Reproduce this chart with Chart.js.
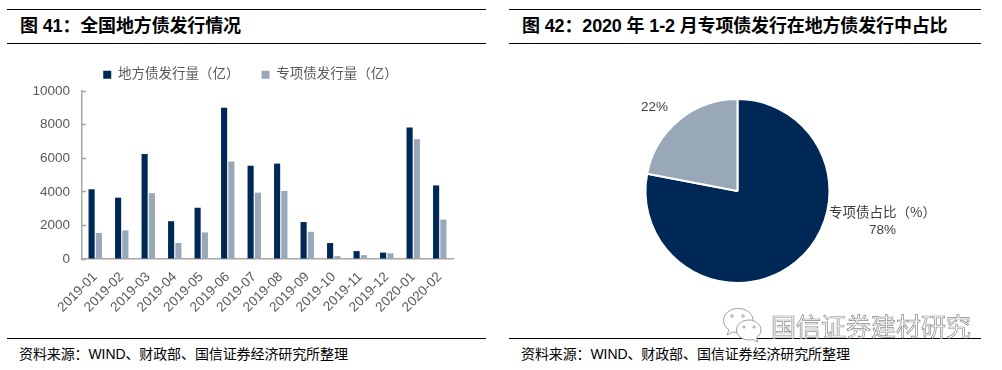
<!DOCTYPE html>
<html>
<head>
<meta charset="utf-8">
<script src="https://cdn.jsdelivr.net/npm/chart.js@4"></script>
<style>
html, body { margin: 0; padding: 0; background: #fff; }
body { width: 1002px; height: 370px; position: relative; overflow: hidden; font-family: "Liberation Sans", "Noto Sans CJK SC", sans-serif; }
.rule { position: absolute; height: 1px; background: #000; }
.title { position: absolute; top: 15px; font-size: 18px; line-height: 22px; font-weight: bold; color: #000; white-space: pre; letter-spacing: -0.15px; }
.source { position: absolute; top: 345px; font-size: 14px; line-height: 18px; color: #000; white-space: pre; letter-spacing: -0.1px; }
canvas { position: absolute; }
.mark { position: absolute; left: 771px; top: 310px; font-size: 25px; line-height: 30px; color: #fff; -webkit-text-stroke: 0.7px #8a8a8a; font-family: "Noto Sans CJK SC", sans-serif; white-space: pre; }
</style>
</head>
<body>
<div class="rule" style="left:7px;width:479px;top:9px"></div>
<div class="rule" style="left:7px;width:479px;top:43px"></div>
<div class="rule" style="left:7px;width:479px;top:338px"></div>
<div class="rule" style="left:509px;width:472px;top:9px"></div>
<div class="rule" style="left:509px;width:472px;top:43px"></div>
<div class="rule" style="left:509px;width:472px;top:338px"></div>
<div class="title" style="left:20px">图 41&#xFF1A;全国地方债发行情况</div>
<div class="title" style="left:522px">图 42&#xFF1A;2020 年 1-2 月专项债发行在地方债发行中占比</div>
<div class="source" style="left:19px">资料来源&#xFF1A;WIND、财政部、国信证券经济研究所整理</div>
<div class="source" style="left:521px">资料来源&#xFF1A;WIND、财政部、国信证券经济研究所整理</div>
<canvas id="bar-chart" width="503" height="283" style="left:0;top:46px"></canvas>
<canvas id="pie-chart" width="475" height="262" style="left:500px;top:60px"></canvas>
<svg style="position:absolute;left:722px;top:307px" width="44" height="36" fill="#fff" stroke="#8a8a8a" stroke-width="0.8">
  <path d="M16 1.5C7.5 1.5 1.5 7 1.5 13.5c0 4 2.2 7 5.5 9.2L5 28l6-3c1.6.4 3.2.6 5 .6 8.5 0 15-5.300 15-12.100S24.500 1.500 16 1.500z"/>
  <path d="M27 13c-7 0-12.500 4.500-12.500 10S20 33 27 33c1.400 0 2.700-.2 4-.5l5 2.500-1.500-4.500c2.800-1.800 4.500-4.500 4.500-7.500 0-5.500-5.500-10-12-10z"/>
  <circle cx="10" cy="9" r="1.300"/><circle cx="21" cy="9" r="1.300"/><circle cx="22" cy="20" r="1.100"/><circle cx="32" cy="20" r="1.100"/>
</svg>
<div class="mark">国信证券建材研究</div>

<script>
var months = ['2019-01', '2019-02', '2019-03', '2019-04', '2019-05', '2019-06', '2019-07',
    '2019-08', '2019-09', '2019-10', '2019-11', '2019-12', '2020-01', '2020-02'];
var localBonds = [4150, 3650, 6250, 2250, 3050, 9000, 5550, 5680, 2200, 950, 470, 380, 7830, 4380];
var specialBonds = [1550, 1700, 3920, 950, 1580, 5800, 3950, 4050, 1620, 170, 230, 340, 7130, 2350];
var yTicks = [0, 2000, 4000, 6000, 8000, 10000];

var seriesNames = ['地方债发行量\uFF08亿\uFF09', '专项债发行量\uFF08亿\uFF09'];
var shareLabels = ['专项债占比\uFF08%\uFF09', ''];
var shareValues = [78, 22];
var shareText = ['78%', '22%'];

var DARK = '#002856';
var GREY = '#98a8b9';
var AXIS = '#a6a6a6';
var TEXT = '#595959';
var LATIN = '"Liberation Sans", "Noto Sans CJK SC", sans-serif';

// the item gap comes from labels.padding, so keep the legend box itself short
// and move it right, it is centred on the plot in the original
var shiftedLegend = {
    id: 'shiftedLegend',
    beforeInit: function(chart) {
        var legend = chart.legend;
        var fit = legend.fit;
        var draw = legend.draw;
        legend.fit = function() {
            fit.call(this);
            this.height = 45;
        };
        legend.draw = function() {
            chart.ctx.save();
            chart.ctx.translate(24, 0);
            draw.call(this);
            chart.ctx.restore();
        };
    }
};

var initBarChart = function() {
    new Chart(document.getElementById('bar-chart'), {
        type: 'bar',
        data: {
            labels: months,
            datasets: [
                { label: seriesNames[0], data: localBonds, backgroundColor: DARK },
                { label: seriesNames[1], data: specialBonds, backgroundColor: GREY }
            ]
        },
        options: {
            responsive: false,
            animation: false,
            categoryPercentage: 0.55,
            barPercentage: 0.84,
            layout: { padding: { right: 50 } },
            plugins: {
                tooltip: { enabled: false },
                legend: {
                    position: 'top',
                    labels: {
                        boxWidth: 8,
                        boxHeight: 8,
                        padding: 22,
                        color: TEXT,
                        font: { family: LATIN, size: 13.5 }
                    }
                }
            },
            scales: {
                x: {
                    afterFit: function(scale) { scale.height = 70; },
                    grid: { drawOnChartArea: false, drawTicks: false },
                    border: { color: AXIS, width: 1.5 },
                    ticks: {
                        color: TEXT,
                        maxRotation: 45,
                        minRotation: 45,
                        padding: 10,
                        autoSkip: false,
                        font: { family: LATIN, size: 13.5 }
                    }
                },
                y: {
                    min: 0,
                    max: 10000,
                    afterFit: function(scale) { scale.width = 82; },
                    afterBuildTicks: function(scale) {
                        scale.ticks = yTicks.map(function(v) { return { value: v }; });
                    },
                    grid: { drawOnChartArea: false, tickLength: -4, tickColor: AXIS, tickWidth: 1.5 },
                    border: { color: AXIS, width: 1.5 },
                    ticks: {
                        color: TEXT,
                        padding: 16,
                        font: { family: LATIN, size: 13.5 },
                        callback: function(value) { return String(value); }
                    }
                }
            }
        },
        plugins: [shiftedLegend]
    });
};

// labels sit next to the slices, a little away from the pie centre
var pieLabels = {
    id: 'pieLabels',
    afterDatasetsDraw: function(chart) {
        var arc = chart.getDatasetMeta(0).data[0];
        var ctx = chart.ctx;
        ctx.save();
        ctx.fillStyle = '#404040';
        ctx.textAlign = 'center';
        ctx.textBaseline = 'middle';
        ctx.font = '13.5px "Noto Sans CJK SC", sans-serif';
        ctx.fillText(shareLabels[0], arc.x + 145, arc.y + 21);
        ctx.font = '13.5px ' + LATIN;
        ctx.fillText(shareText[0], arc.x + 145, arc.y + 39);
        ctx.fillText(shareText[1], arc.x - 83, arc.y - 84);
        ctx.restore();
    }
};

var initPieChart = function() {
    new Chart(document.getElementById('pie-chart'), {
        type: 'pie',
        data: {
            labels: shareLabels,
            datasets: [{
                data: shareValues,
                backgroundColor: [DARK, GREY],
                borderColor: '#fff',
                borderWidth: 2
            }]
        },
        options: {
            responsive: false,
            animation: false,
            radius: 92,
            plugins: {
                legend: { display: false },
                tooltip: { enabled: false }
            }
        },
        plugins: [pieLabels]
    });
};

window.onload = function() {
    initBarChart();
    initPieChart();
};
</script>
</body>
</html>
